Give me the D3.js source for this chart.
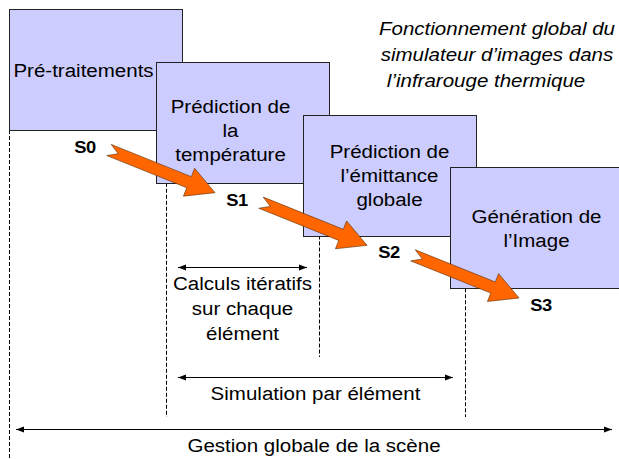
<!DOCTYPE html>
<html>
<head>
<meta charset="utf-8">
<script src="https://cdn.jsdelivr.net/npm/d3@7"></script>
<style>
  body { margin: 0; background: #fff; }
  svg { display: block; }
</style>
</head>
<body>
<svg></svg>
<script>
// Étapes du simulateur (une boîte par étape, lignes du libellé)
const stages = [
  ["Pré-traitements"],
  ["Prédiction de", "la", "température"],
  ["Prédiction de", "l’émittance", "globale"],
  ["Génération de", "l’Image"]
];

// États entre les étapes
const states = ["S0", "S1", "S2", "S3"];

// Intervalles en bas : libellés et repères de début / fin
const spanLabels = [
  ["Calculs itératifs", "sur chaque", "élément"],
  ["Simulation par élément"],
  ["Gestion globale de la scène"]
];
const spanFrom = [1, 1, 0];
const spanTo = [2, 3, 4];

const titleLines = ["Fonctionnement global du", "simulateur d’images dans", "l’infrarouge thermique"];

var svgWidth = 619, svgHeight = 459;
var boxW = 173, boxH = 121;
var stretch = 1.08; // le texte de l'original est un peu étiré en largeur
var font = "'Liberation Sans', Arial, sans-serif";

var svg = d3.select("svg")
    .attr("width", svgWidth)
    .attr("height", svgHeight);

// Échelles : position des boîtes, des repères verticaux, des états et des intervalles
var x = d3.scaleLinear().domain([0, 4]).range([9, 597]);
var y = d3.scaleLinear().domain([0, 4]).range([9, 220]);
var guide = d3.scaleLinear().domain([0, 1, 2, 3, 4]).range([9, 166, 319, 465, 619]);
var sx = d3.scaleLinear().domain([0, 3]).range([85, 541]);
var sy = d3.scaleLinear().domain([0, 3]).range([153, 311]);
var rowY = d3.scaleOrdinal().domain([0, 1, 2]).range([267, 377, 429]);

// écrit des lignes de texte centrées, étirées horizontalement
function label(g, lines, cx, y0, lh, size, opts) {
  opts = opts || {};
  lines.forEach(function(t, i) {
    var dx = opts.shift ? opts.shift[i] : 0;
    g.append("text")
      .attr("transform", "translate(" + (cx + dx) + "," + (y0 + i * lh) + ") scale(" + stretch + ",1)")
      .attr("text-anchor", "middle")
      .attr("font-family", font)
      .attr("font-size", size)
      .attr("font-style", opts.italic ? "italic" : null)
      .attr("font-weight", opts.bold ? "bold" : null)
      .attr("letter-spacing", opts.ls || null)
      .attr("fill", "#000")
      .text(t);
  });
}

// marqueur de flèche fine
svg.append("defs").append("marker")
    .attr("id", "head")
    .attr("markerUnits", "userSpaceOnUse")
    .attr("viewBox", "0 -4 8 8")
    .attr("refX", 8)
    .attr("refY", 0)
    .attr("markerWidth", 8)
    .attr("markerHeight", 8)
    .attr("orient", "auto-start-reverse")
  .append("path")
    .attr("d", "M0,-3L8,0L0,3Z")
    .attr("fill", "#000");

// bas de chaque repère : sous le texte de l'intervalle le plus bas qui s'y appuie
var guideBottom = [0, 1, 2, 3].map(function(gi) {
  var b = 0;
  spanLabels.forEach(function(lines, s) {
    if (spanFrom[s] === gi || spanTo[s] === gi) {
      b = Math.max(b, rowY(s) + 23 + (lines.length - 1) * 25 + 17);
    }
  });
  return Math.min(b, svgHeight);
});

// repères verticaux en pointillés
svg.append("g").selectAll("line")
    .data([0, 1, 2, 3])
  .enter().append("line")
    .attr("x1", function(d) { return Math.round(guide(d)) + 0.5; })
    .attr("x2", function(d) { return Math.round(guide(d)) + 0.5; })
    .attr("y1", function(d) { return y(d) + boxH; })
    .attr("y2", function(d) { return guideBottom[d]; })
    .attr("stroke", "#000")
    .attr("stroke-width", 1)
    .attr("stroke-dasharray", "4,2");

// boîtes des étapes (chacune recouvre la précédente)
var labelDx = [-12, -12, 0, 0], labelDy = [0, 8, 0, 0];
var boxes = svg.append("g");
stages.forEach(function(lines, i) {
  boxes.append("rect")
    .attr("x", Math.round(x(i)) + 0.5)
    .attr("y", Math.round(y(i)) + 0.5)
    .attr("width", boxW)
    .attr("height", boxH)
    .attr("fill", "#ccccff")
    .attr("stroke", "#222")
    .attr("stroke-width", 1);
  var cx = x(i) + boxW / 2 + labelDx[i];
  var y0 = y(i) + boxH / 2 - (lines.length - 1) * 24 / 2 + 7 + labelDy[i];
  label(boxes, lines, cx, y0, 24, 19);
});

// flèches orange entre états (flèche à queue échancrée)
function blockArrow(x0, y0, x1, y1) {
  var dx = x1 - x0, dy = y1 - y0, L = Math.hypot(dx, dy);
  var ux = dx / L, uy = dy / L, vx = -uy, vy = ux;
  var h = 6, H = 15, Lh = 28, n = 10;
  var pts = [[0, -h], [L - Lh, -h], [L - Lh, -H], [L, 0], [L - Lh, H], [L - Lh, h], [0, h], [n, 0]];
  return pts.map(function(p) {
    return [x0 + p[0] * ux + p[1] * vx, y0 + p[0] * uy + p[1] * vy];
  });
}

var flows = svg.append("g");
d3.range(states.length - 1).forEach(function(i) {
  var pts = blockArrow(sx(i) + 24, sy(i) - 3, sx(i + 1) - 22, sy(i + 1) - 13);
  flows.append("path")
    .attr("d", d3.line()(pts) + "Z")
    .attr("fill", "#ff6600")
    .attr("stroke", "#5a2a00")
    .attr("stroke-width", 0.6)
    .attr("stroke-linejoin", "miter");
});

// libellés des états
states.forEach(function(s, i) {
  label(svg, [s], sx(i), sy(i), 0, 17, { bold: true, ls: -0.5 });
});

// intervalles en bas (flèches à double pointe)
var spans = svg.append("g");
spanLabels.forEach(function(lines, s) {
  var a = spanFrom[s], b = spanTo[s];
  var x1 = guide(a) + (a === 0 ? 7 : 12);
  var x2 = guide(b) - (b === 4 ? 7 : 12);
  spans.append("line")
    .attr("x1", x1).attr("x2", x2)
    .attr("y1", rowY(s) + 0.5).attr("y2", rowY(s) + 0.5)
    .attr("stroke", "#000")
    .attr("stroke-width", 1)
    .attr("marker-start", "url(#head)")
    .attr("marker-end", "url(#head)");
  label(spans, lines, (x1 + x2) / 2, rowY(s) + 23, 25, 19);
});

// titre en italique
label(svg, titleLines, 497, 35, 26, 19, { italic: true, shift: [0, 0, -11] });
</script>
</body>
</html>
